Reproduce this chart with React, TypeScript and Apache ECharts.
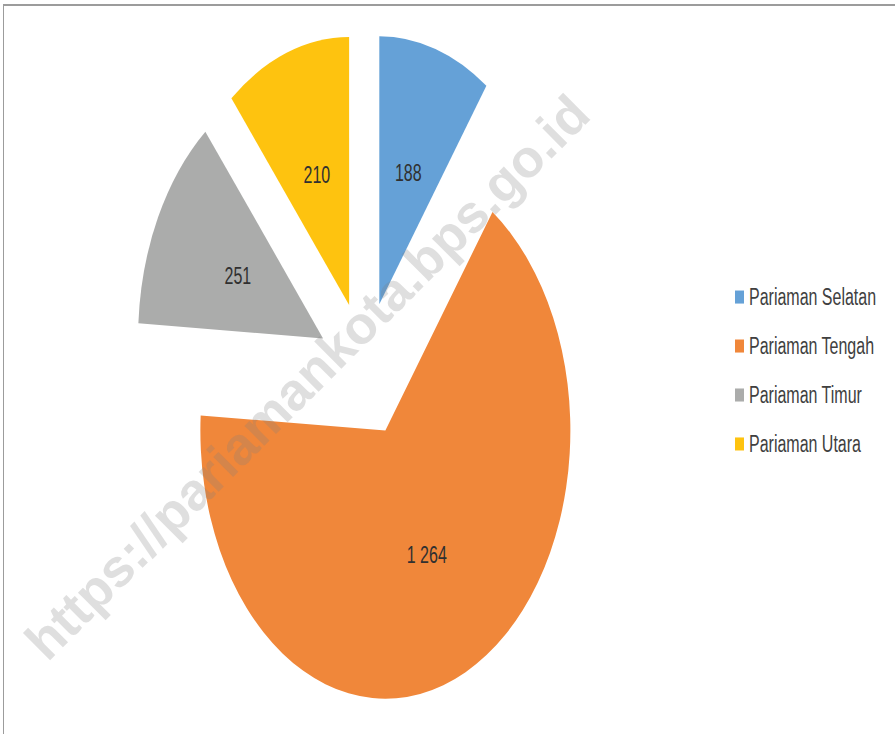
import React, { useEffect, useRef } from "react";
import * as echarts from "echarts";

const categories = ["Pariaman Selatan", "Pariaman Tengah", "Pariaman Timur", "Pariaman Utara"];
const values = [188, 1264, 251, 210];
const palette = ["#65A1D7", "#F0873A", "#ABACAB", "#FEC30F"];
const watermarkText = "https://pariamankota.bps.go.id";

const W = 895;
const H = 734;
const S = 1.449; // vertical stretch of the reference
const FONT = "'Liberation Sans', Arial, sans-serif";

const fmt = (v: number) => String(v).replace(/\B(?=(\d{3})+(?!\d))/g, " ");

export default function App() {
  const chartRef = useRef<HTMLDivElement>(null);
  const wmRef = useRef<HTMLDivElement>(null);

  useEffect(() => {
    if (!chartRef.current || !wmRef.current) return;
    const chart = echarts.init(chartRef.current, undefined, { renderer: "svg" });
    const wm = echarts.init(wmRef.current, undefined, { renderer: "svg" });

    chart.setOption({
      animation: false,
      legend: {
        orient: "vertical",
        left: 735,
        top: 197,
        padding: 0,
        icon: "rect",
        itemWidth: 9,
        itemHeight: 9,
        itemGap: 17.8,
        selectedMode: false,
        data: categories,
        textStyle: { fontSize: 16, color: "#404040", fontFamily: FONT, lineHeight: 16 },
      },
      series: [
        {
          type: "pie",
          center: [365, 254.8],
          radius: 185,
          startAngle: 90,
          clockwise: true,
          selectedMode: "multiple",
          selectedOffset: 47,
          emphasis: { disabled: true, scale: false },
          label: {
            show: true,
            position: "inside",
            formatter: (p: any) => fmt(p.value),
            fontSize: 16,
            color: "#303030",
            fontFamily: FONT,
          },
          labelLine: { show: false },
          select: { itemStyle: { borderWidth: 0 } },
          data: categories.map((name, i) => ({
            name,
            value: values[i],
            selected: true,
            itemStyle: { color: palette[i], borderWidth: 0 },
            select: { itemStyle: { color: palette[i], borderWidth: 0 } },
          })),
        },
      ],
    });

    wm.setOption({
      animation: false,
      graphic: [
        {
          type: "text",
          x: 307,
          y: 377,
          rotation: Math.PI / 4,
          silent: true,
          style: {
            text: watermarkText,
            fontSize: 53,
            fontWeight: "bold",
            fontFamily: FONT,
            fill: "rgba(128,128,128,0.25)",
            align: "center",
            verticalAlign: "middle",
          },
        },
      ],
    });

    return () => {
      chart.dispose();
      wm.dispose();
    };
  }, []);

  return (
    <div
      style={{
        position: "fixed",
        left: 0,
        top: 0,
        width: W,
        height: H,
        background: "#ffffff",
        overflow: "hidden",
      }}
    >
      <div
        style={{
          position: "absolute",
          left: 3,
          top: 4,
          width: W,
          height: H,
          borderTop: "2px solid #9c9c9c",
          borderLeft: "1px solid #9c9c9c",
        }}
      />
      <div
        ref={chartRef}
        style={{
          position: "absolute",
          left: 0,
          top: 0,
          width: W,
          height: H / S,
          transform: `scaleY(${S})`,
          transformOrigin: "0 0",
        }}
      />
      <div
        ref={wmRef}
        style={{ position: "absolute", left: 0, top: 0, width: W, height: H, pointerEvents: "none" }}
      />
    </div>
  );
}
